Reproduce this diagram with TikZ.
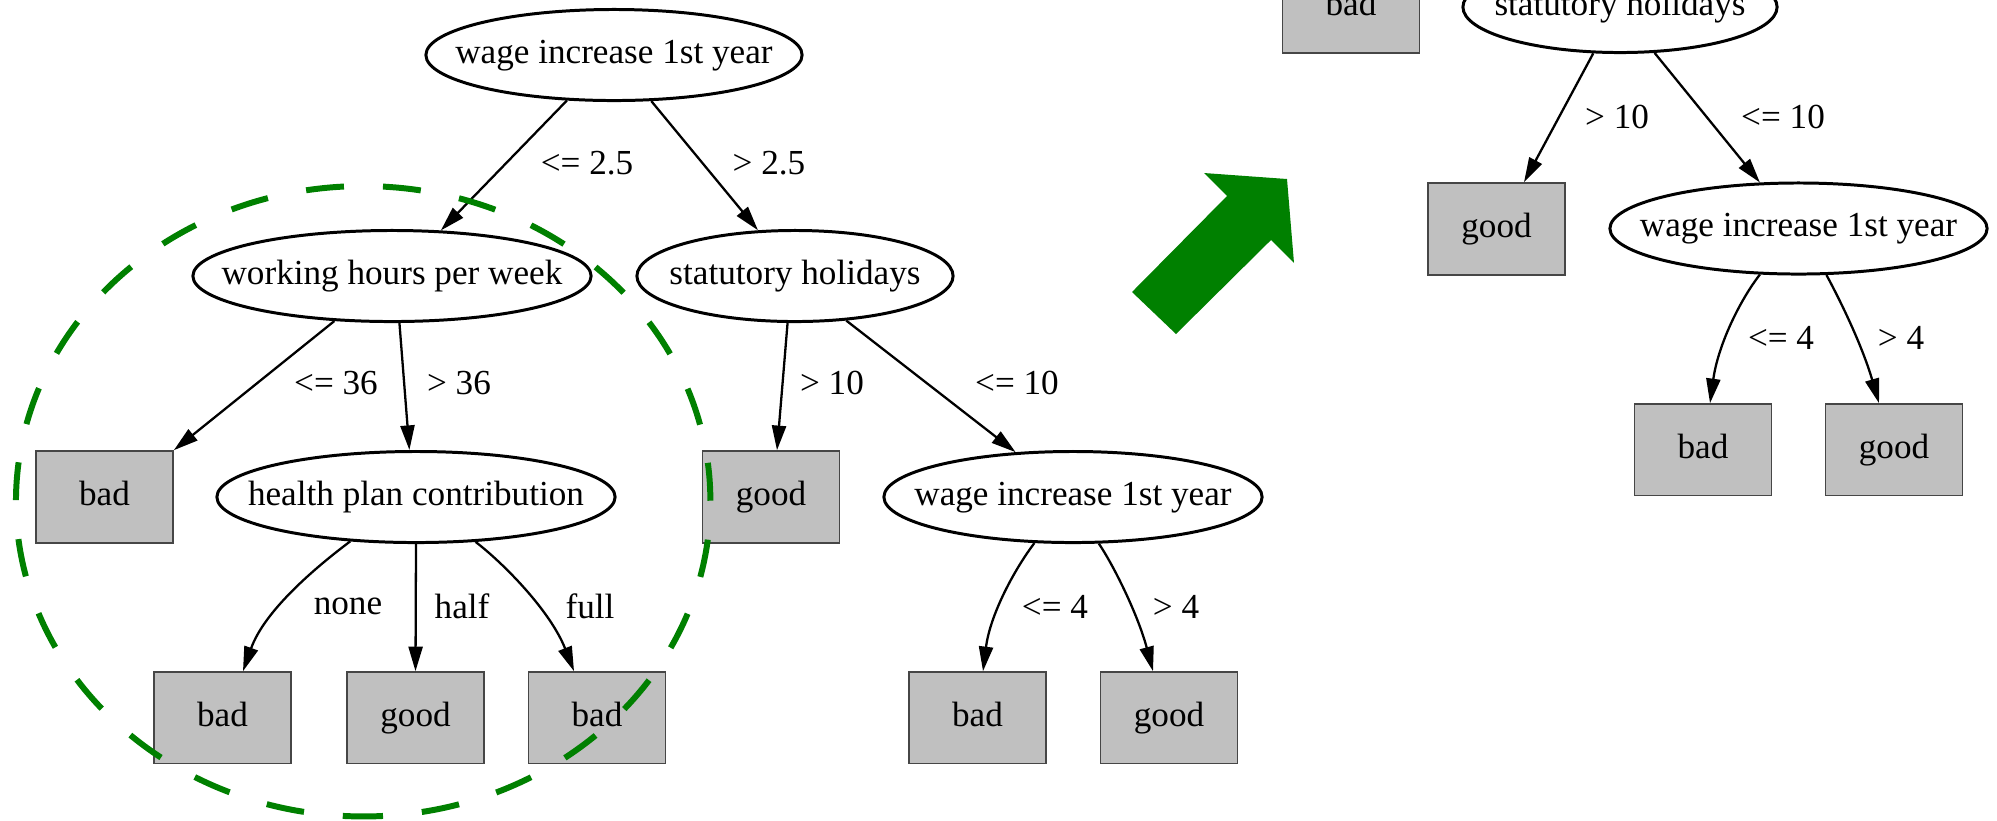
\documentclass[tikz,border=0pt]{standalone}
\usepackage{fontspec}
\setmainfont{Liberation Serif}
\usetikzlibrary{arrows.meta,shapes.geometric,calc}

\definecolor{leafgray}{RGB}{192,192,192}
\definecolor{leafedge}{RGB}{70,70,70}
\definecolor{markgreen}{RGB}{0,128,0}

% text of a test node: its width must not enlarge the ellipse
\newcommand{\flatlabel}[1]{\makebox[0pt]{#1}}

\begin{document}
\begin{tikzpicture}[x=0.01cm, y=-0.01cm,
  font=\fontsize{10}{12}\selectfont,
  test/.style={ellipse, draw, line width=0.85pt, inner sep=0pt,
               text height=6.9pt, text depth=2.3pt,
               minimum height=0.91cm, minimum width=#1},
  leaf/.style={rectangle, draw=leafedge, fill=leafgray, line width=0.45pt,
               inner sep=0pt, text height=6.9pt, text depth=2.3pt,
               minimum width=1.37cm, minimum height=0.92cm},
  branch/.style={draw, line width=0.65pt, -{Triangle[length=7pt,width=4pt]}},
  cond/.style={inner sep=0pt},
  ring/.style={draw=markgreen, line width=1.7pt,
               dash pattern=on 0.38cm off 0.39cm},
]
\useasboundingbox (0,0) rectangle (1997,820);
\clip (0,0) rectangle (1997,820);

% ---------------- left tree: full decision tree ----------------
\begin{scope}
\clip (0,0) rectangle (1275,763);
\node[test=3.76cm] (r1) at (614,55)  {\flatlabel{wage increase 1st year}};
\node[test=3.98cm] (wk) at (392,276) {\flatlabel{working hours per week}};
\node[test=3.16cm] (s1) at (795,276) {\flatlabel{statutory holidays}};
\node[leaf] (b1) at (104.5,497) {bad};
\node[test=3.98cm] (hp) at (416,497) {\flatlabel{health plan contribution}};
\node[leaf] (g1) at (771,497) {good};
\node[test=3.78cm] (w2) at (1073,497) {\flatlabel{wage increase 1st year}};
\node[leaf] (b2) at (222.5,718) {bad};
\node[leaf] (g2) at (415.5,718) {good};
\node[leaf] (b3) at (597,718)   {bad};
\node[leaf] (b4) at (977.5,718) {bad};
\node[leaf] (g3) at (1169,718)  {good};

\draw[branch] (r1.224) -- (wk.43);
\draw[branch] (r1.309) -- (s1.129);
\draw[branch] (wk.218) -- (b1.north east);
\draw[branch] (wk.279) -- (hp.98);
\draw[branch] (s1.261) -- ($(g1.north)+(6,0)$);
\draw[branch] (s1.319) -- (w2.142);
\draw[branch] (hp.214) .. controls (312,570) and (264,612) .. ($(b2.north)+(20.5,0)$);
\draw[branch] (hp.south) -- (g2.north);
\draw[branch] (hp.323) .. controls (502,562) and (550,610) .. ($(b3.north)+(-23,0)$);
\draw[branch] (w2.230) .. controls (1014,570) and (990,615) .. ($(b4.north)+(5.5,0)$);
\draw[branch] (w2.299) .. controls (1114,566) and (1138,615) .. ($(g3.north)+(-16,0)$);

\node[cond] (c1)  at (587,163) {<= 2.5};
\node[cond] (c2)  at (769,163) {> 2.5};
\node[cond] (c3)  at (336,383) {<= 36};
\node[cond] (c4)  at (459,383) {> 36};
\node[cond] (c5)  at (832,383) {> 10};
\node[cond] (c6)  at (1017,383) {<= 10};
\node[cond] (c7)  at (348,606) {none};
\node[cond] (c8)  at (462,606) {half};
\node[cond] (c9)  at (590,606) {full};
\node[cond] (c10) at (1055,607) {<= 4};
\node[cond] (c11) at (1176,607) {> 4};
\end{scope}

% ---------------- right tree: pruned decision tree ----------------
\begin{scope}
\clip (1275,0) rectangle (1997,495);
\node[leaf] (b5) at (1351,7) {bad};
\node[test=3.14cm] (s2) at (1620,7) {\flatlabel{statutory holidays}};
\node[leaf] (g4) at (1496.5,229) {good};
\node[test=3.77cm] (w3) at (1798.5,228.5) {\flatlabel{wage increase 1st year}};
\node[leaf] (b6) at (1703,450) {bad};
\node[leaf] (g5) at (1894,450) {good};

\draw[branch] (s2.240) -- ($(g4.north)+(27.5,0)$);
\draw[branch] (s2.307) -- (w3.130);
\draw[branch] (w3.230) .. controls (1740,300) and (1718,345) .. ($(b6.north)+(7,0)$);
\draw[branch] (w3.301) .. controls (1840,300) and (1862,345) .. ($(g5.north)+(-15,0)$);

\node[cond] (c12) at (1617,117) {> 10};
\node[cond] (c13) at (1783,117) {<= 10};
\node[cond] (c14) at (1781,338) {<= 4};
\node[cond] (c15) at (1901,338) {> 4};
\end{scope}

% ---------------- pruning arrow and the marked subtree ----------------
\fill[markgreen] (1132,292) -- (1227,196) -- (1204,173) -- (1287,179)
  -- (1294,263) -- (1271,240) -- (1176,334) -- cycle;

\draw[ring] (345,816) arc[start angle=-93, end angle=267,
  x radius=3.47cm, y radius=3.15cm];
\end{tikzpicture}
\end{document}
